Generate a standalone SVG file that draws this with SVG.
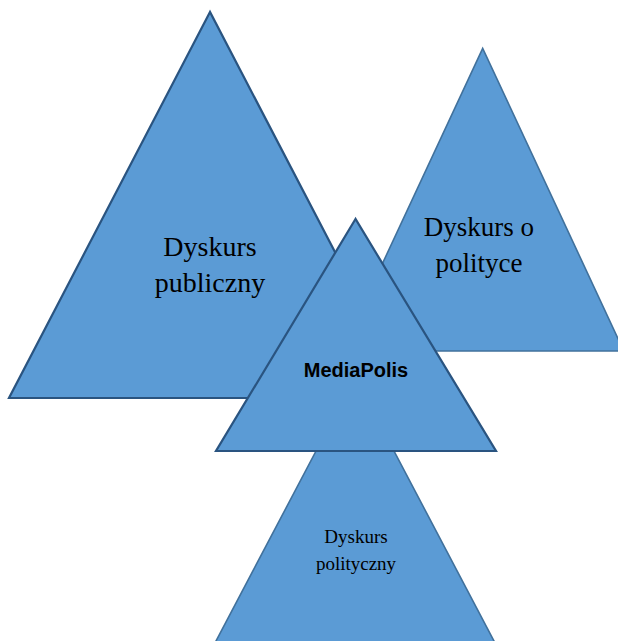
<svg xmlns="http://www.w3.org/2000/svg" width="618" height="641" viewBox="0 0 618 641">
<style>
.tri{fill:#5B9BD5;stroke-linejoin:miter}
.dark{stroke:#2A5480;stroke-width:2.2}
.light{stroke:#41719C;stroke-width:1.6}
.serif{font-family:"Liberation Serif","Times New Roman",serif;fill:#000;text-anchor:middle}
.sans{font-family:"Liberation Sans",Arial,sans-serif;font-weight:bold;fill:#000;text-anchor:middle}
</style>
<rect width="618" height="641" fill="#FFFFFF"/>
<g id="dyskurs-publiczny">
<polygon class="tri dark" points="210,12 9,398 411,398"/>
<text class="serif" font-size="28" x="210" y="256">Dyskurs</text>
<text class="serif" font-size="28" x="210" y="292">publiczny</text>
</g>
<g id="dyskurs-o-polityce">
<polygon class="tri light" points="482.7,48.3 341.7,351 623.8,351"/>
<text class="serif" font-size="27" x="479" y="236">Dyskurs o</text>
<text class="serif" font-size="27" x="479" y="272">polityce</text>
</g>
<g id="dyskurs-polityczny">
<polygon class="tri light" points="355,377 206,660 504,660"/>
<text class="serif" font-size="19" x="356" y="543">Dyskurs</text>
<text class="serif" font-size="19" x="356" y="570">polityczny</text>
</g>
<g id="mediapolis">
<polygon class="tri dark" points="355.5,219 216,451 496,451"/>
<text class="sans" font-size="20" x="356" y="377">MediaPolis</text>
</g>
<g id="connectors"></g>
</svg>
